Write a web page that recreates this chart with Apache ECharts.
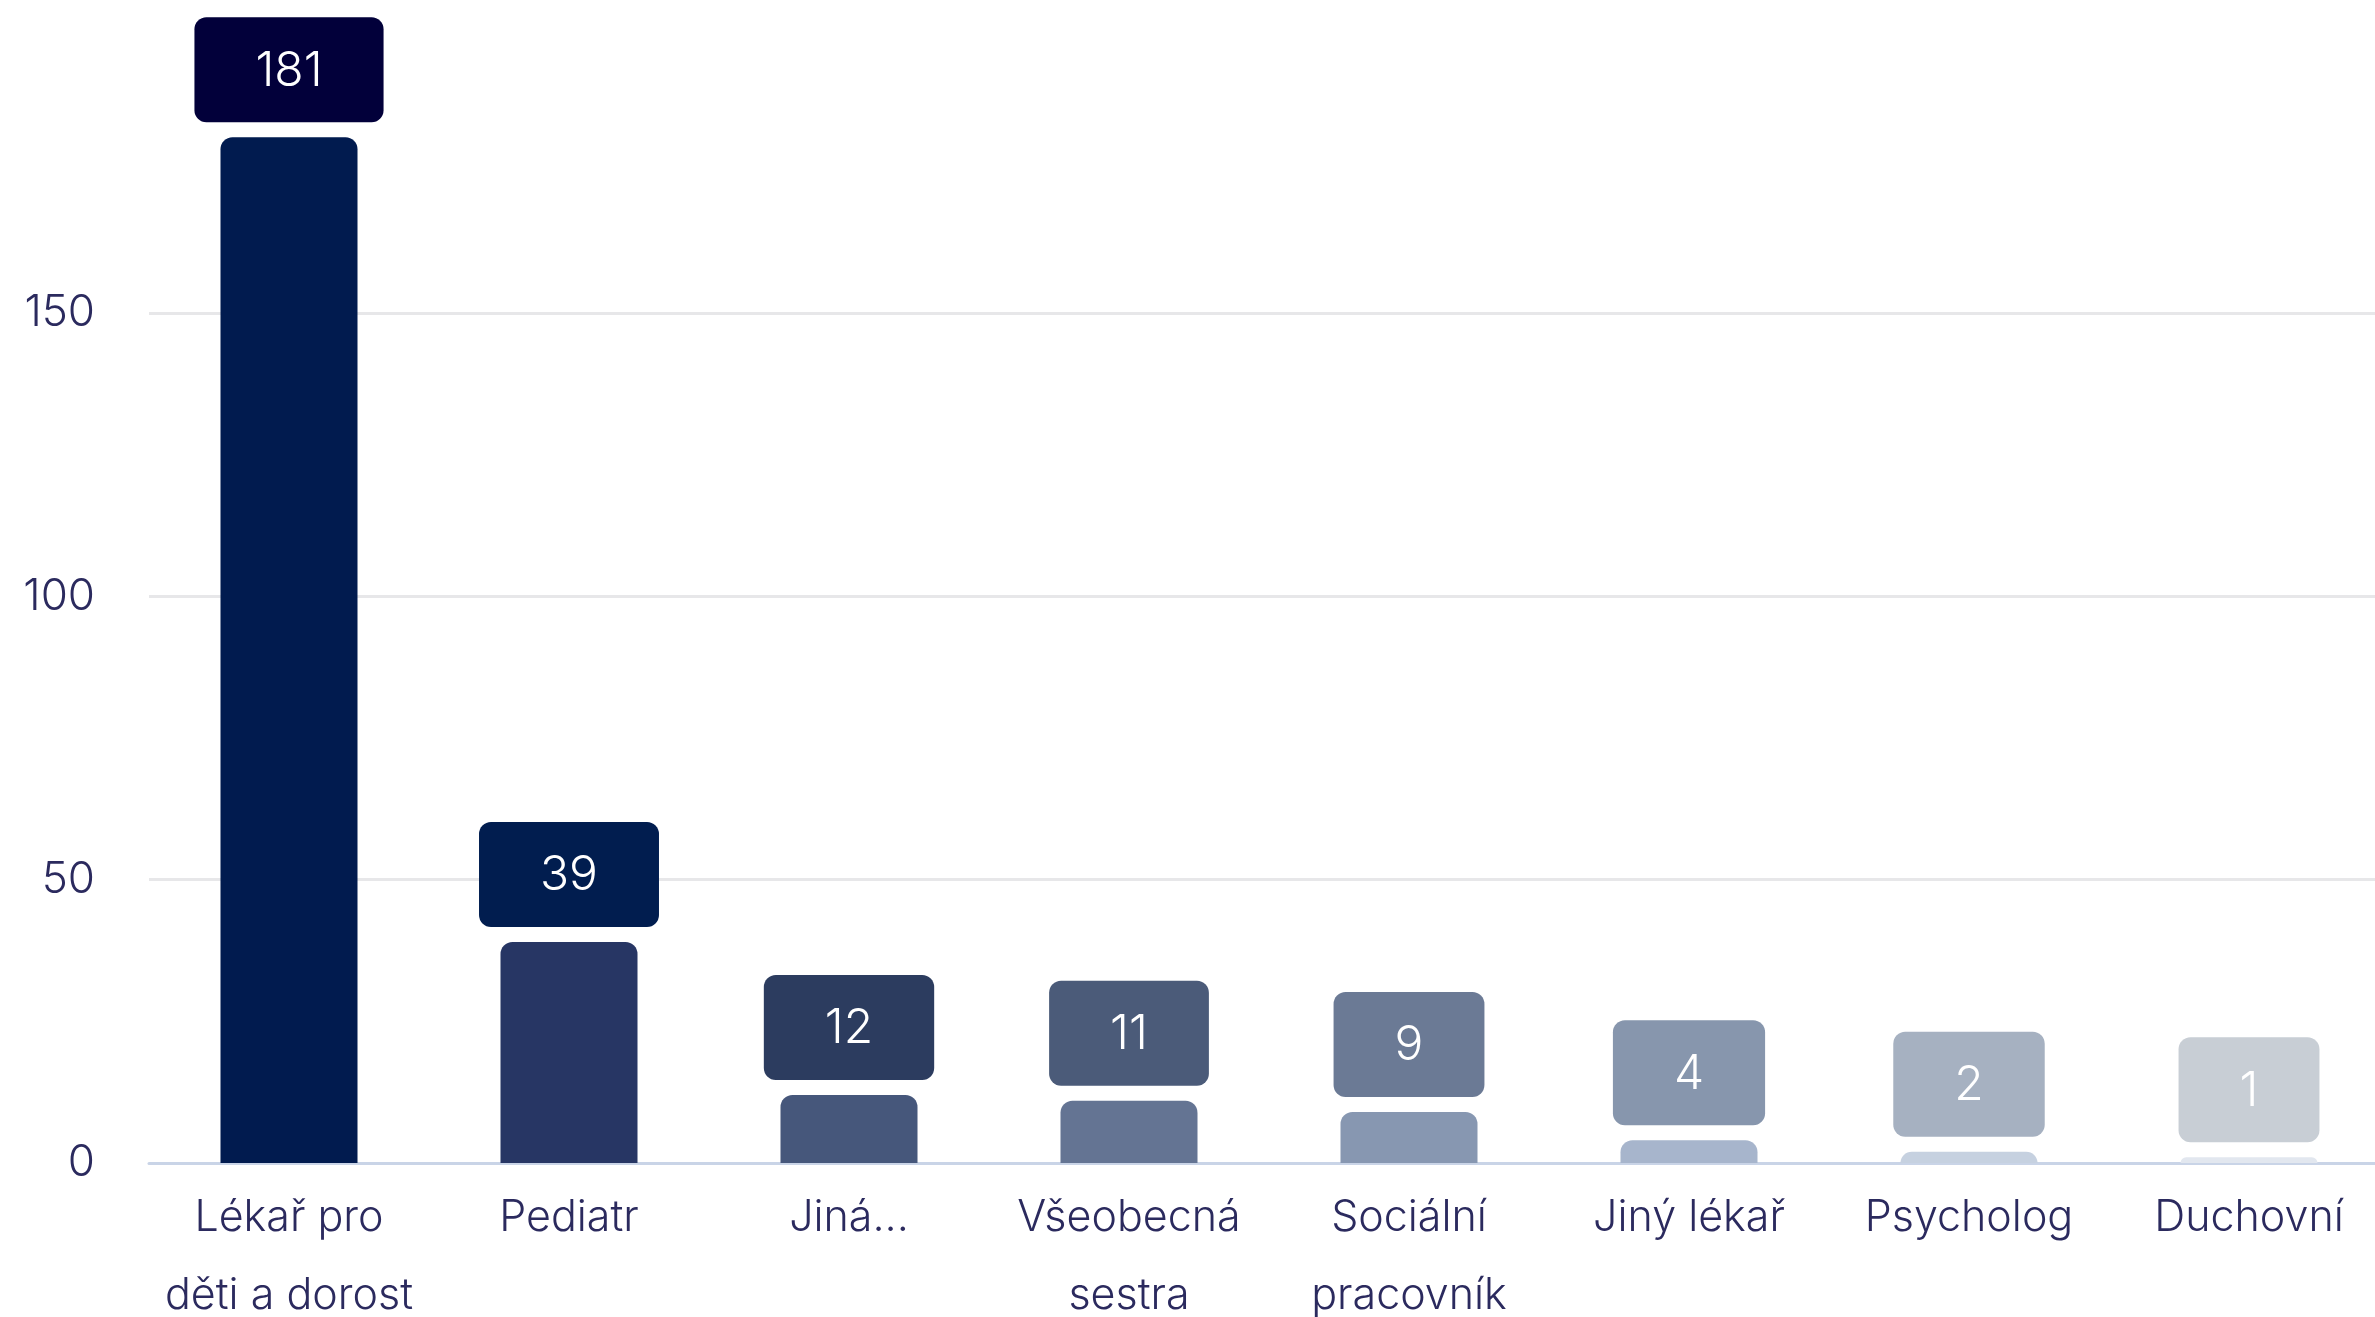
<!DOCTYPE html>
<html>
<head>
<meta charset="utf-8">
<script src="https://cdn.jsdelivr.net/npm/echarts@6/dist/echarts.min.js"></script>
<style>
html,body{margin:0;padding:0;background:#ffffff;}
#chart{width:2375px;height:1317px;}
</style>
</head>
<body>
<div id="chart"></div>
<script>
const categories = ['Lékař pro\nděti a dorost', 'Pediatr', 'Jiná...', 'Všeobecná\nsestra', 'Sociální\npracovník', 'Jiný lékař', 'Psycholog', 'Duchovní'];
const values = [181, 39, 12, 11, 9, 4, 2, 1];
const barColors = ['#011b4f', '#273664', '#46577b', '#647493', '#8797b1', '#a7b5cc', '#c6d1e0', '#e2e7ef'];
const boxColors = ['#02003a', '#011d4f', '#2c3c5f', '#4b5b79', '#6b7a95', '#8796ad', '#a6b1c1', '#c8ced5'];
const yTicks = [0, 50, 100, 150];

const chart = echarts.init(document.getElementById('chart'), null, {renderer: 'canvas'});
const FONT = 'Inter';
chart.setOption({
  backgroundColor: '#ffffff',
  animation: false,
  grid: {left: 149, right: -14, top: 313, bottom: 154, containLabel: false, outerBoundsMode: 'none'},
  xAxis: {
    type: 'category',
    data: categories,
    axisLine: {show: true, lineStyle: {color: '#c9d4e7', width: 3}},
    axisTick: {show: false},
    axisLabel: {
      color: '#2b2a5e', fontFamily: FONT, fontWeight: 300, fontSize: 43, lineHeight: 78,
      margin: 16, interval: 0, verticalAlign: 'top'
    }
  },
  yAxis: {
    type: 'value',
    min: yTicks[0],
    max: yTicks[yTicks.length - 1],
    interval: 50,
    axisLine: {show: false},
    axisTick: {show: false},
    axisLabel: {color: '#2b2a5e', fontFamily: FONT, fontWeight: 300, fontSize: 44, margin: 54},
    splitLine: {show: true, lineStyle: {color: '#e7e7e9', width: 3}}
  },
  series: [{
    type: 'bar',
    clip: false,
    barWidth: 137,
    data: values.map((v, i) => ({
      value: v,
      itemStyle: {color: barColors[i], borderRadius: [12, 12, 0, 0]},
      label: {backgroundColor: boxColors[i]}
    })),
    label: {
      show: true,
      position: 'top',
      distance: 15,
      color: '#ffffff',
      fontFamily: FONT,
      fontWeight: 300,
      fontSize: 48,
      lineHeight: 48,
      padding: [30, 61, 27, 61],
      borderRadius: 12
    }
  }]
});
</script>
</body>
</html>
